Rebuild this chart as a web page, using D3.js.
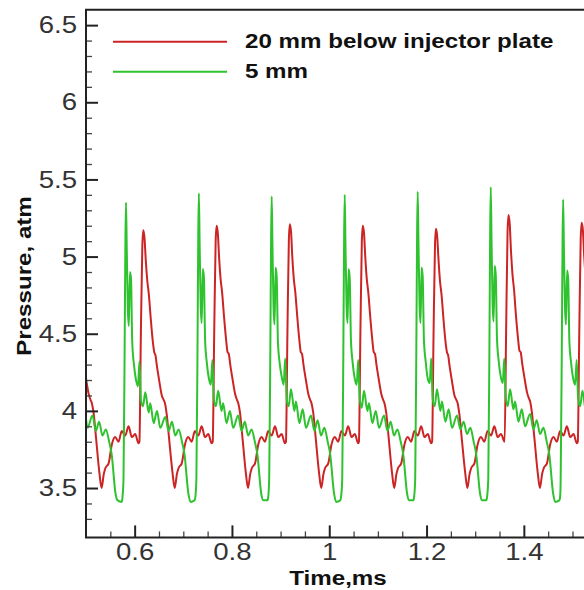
<!DOCTYPE html>
<html><head><meta charset="utf-8">
<script src="https://cdn.jsdelivr.net/npm/d3@7"></script>
<style>html,body{margin:0;padding:0;background:#fff;} svg{display:block;}</style>
</head><body>
<svg id="chart" width="584" height="590"></svg>
<script>
// ---------- data ----------
const seriesNames = ["20 mm below injector plate", "5 mm"];
const seriesColors = ["#cc2424", "#2ec22e"];
const xTickValues = [0.6, 0.8, 1, 1.2, 1.4];
const xTickLabels = ["0.6", "0.8", "1", "1.2", "1.4"];
const yTickValues = [3.5, 4, 4.5, 5, 5.5, 6, 6.5];
const yTickLabels = ["3.5", "4", "4.5", "5", "5.5", "6", "6.5"];
const xTitle = "Time,ms";
const yTitle = "Pressure, atm";

// [time (ms), pressure (atm)]
const red20mm = [
[0.5000,4.21],[0.5055,4.11],[0.5095,4.07],[0.5120,4.05],[0.5155,3.99],[0.5205,3.83],[0.5275,3.60],[0.5320,3.50],[0.5365,3.59],[0.5400,3.63],[0.5465,3.66],[0.5530,3.78],[0.5600,3.83],[0.5668,3.80],[0.5735,3.87],[0.5805,3.84],[0.5875,3.90],[0.5943,3.83],[0.6011,3.85],[0.6080,3.79],[0.6098,3.80],
[0.6128,4.50],[0.6158,5.07],[0.6178,5.17],[0.6203,5.12],[0.6228,4.98],[0.6258,4.85],[0.6293,4.75],[0.6328,4.61],[0.6373,4.45],[0.6403,4.38],[0.6428,4.36],[0.6458,4.29],[0.6508,4.19],[0.6558,4.10],[0.6598,4.07],[0.6623,4.05],[0.6658,3.98],[0.6708,3.82],[0.6778,3.60],[0.6823,3.50],[0.6868,3.59],[0.6903,3.63],[0.6968,3.66],[0.7033,3.78],[0.7103,3.83],[0.7171,3.80],[0.7238,3.87],[0.7308,3.84],[0.7378,3.90],[0.7446,3.83],[0.7514,3.85],[0.7583,3.79],[0.7605,3.80],
[0.7635,4.50],[0.7665,5.10],[0.7685,5.20],[0.7710,5.15],[0.7735,5.00],[0.7765,4.86],[0.7800,4.76],[0.7835,4.62],[0.7880,4.46],[0.7910,4.38],[0.7935,4.37],[0.7965,4.30],[0.8015,4.20],[0.8065,4.11],[0.8105,4.07],[0.8130,4.05],[0.8165,3.99],[0.8215,3.83],[0.8285,3.60],[0.8330,3.50],[0.8375,3.59],[0.8410,3.63],[0.8475,3.66],[0.8540,3.78],[0.8610,3.83],[0.8678,3.80],[0.8745,3.87],[0.8815,3.84],[0.8885,3.90],[0.8953,3.83],[0.9021,3.85],[0.9090,3.79],[0.9110,3.80],
[0.9140,4.50],[0.9170,5.11],[0.9190,5.21],[0.9215,5.16],[0.9240,5.00],[0.9270,4.86],[0.9305,4.76],[0.9340,4.62],[0.9385,4.46],[0.9415,4.38],[0.9440,4.37],[0.9470,4.30],[0.9520,4.20],[0.9570,4.11],[0.9610,4.07],[0.9635,4.05],[0.9670,3.99],[0.9720,3.83],[0.9790,3.60],[0.9835,3.50],[0.9880,3.59],[0.9915,3.63],[0.9980,3.66],[1.0045,3.78],[1.0115,3.83],[1.0183,3.80],[1.0250,3.87],[1.0320,3.84],[1.0390,3.90],[1.0458,3.83],[1.0526,3.85],[1.0595,3.79],[1.0610,3.80],
[1.0640,4.50],[1.0670,5.10],[1.0690,5.20],[1.0715,5.15],[1.0740,5.00],[1.0770,4.86],[1.0805,4.76],[1.0840,4.62],[1.0885,4.46],[1.0915,4.38],[1.0940,4.37],[1.0970,4.30],[1.1020,4.20],[1.1070,4.11],[1.1110,4.07],[1.1135,4.05],[1.1170,3.99],[1.1220,3.83],[1.1290,3.60],[1.1335,3.50],[1.1380,3.59],[1.1415,3.63],[1.1480,3.66],[1.1545,3.78],[1.1615,3.83],[1.1683,3.80],[1.1750,3.87],[1.1820,3.84],[1.1890,3.90],[1.1958,3.83],[1.2026,3.85],[1.2095,3.79],[1.2114,3.80],
[1.2144,4.50],[1.2174,5.08],[1.2194,5.18],[1.2219,5.13],[1.2244,4.99],[1.2274,4.85],[1.2309,4.75],[1.2344,4.61],[1.2389,4.45],[1.2419,4.38],[1.2444,4.36],[1.2474,4.29],[1.2524,4.19],[1.2574,4.10],[1.2614,4.07],[1.2639,4.05],[1.2674,3.98],[1.2724,3.82],[1.2794,3.60],[1.2839,3.50],[1.2884,3.59],[1.2919,3.63],[1.2984,3.66],[1.3049,3.78],[1.3119,3.83],[1.3187,3.80],[1.3254,3.87],[1.3324,3.84],[1.3394,3.90],[1.3462,3.83],[1.3530,3.85],[1.3605,3.80],
[1.3635,4.50],[1.3665,5.16],[1.3685,5.27],[1.3710,5.21],[1.3735,5.04],[1.3765,4.89],[1.3800,4.78],[1.3835,4.63],[1.3880,4.47],[1.3910,4.39],[1.3935,4.38],[1.3965,4.31],[1.4015,4.21],[1.4065,4.12],[1.4105,4.08],[1.4130,4.06],[1.4165,3.99],[1.4215,3.83],[1.4285,3.60],[1.4330,3.50],[1.4375,3.59],[1.4410,3.63],[1.4475,3.66],[1.4540,3.78],[1.4610,3.83],[1.4678,3.80],[1.4745,3.87],[1.4815,3.84],[1.4885,3.90],[1.4953,3.83],[1.5021,3.85],[1.5090,3.79],[1.5109,3.80],
[1.5139,4.50],[1.5169,5.12],[1.5189,5.22],[1.5214,5.17],[1.5239,5.01],[1.5269,4.87],[1.5304,4.76],[1.5339,4.62]
];

const green5mm = [
[0.5000,3.95],[0.5030,3.89],[0.5133,3.97],[0.5202,3.87],[0.5270,3.93],[0.5338,3.84],[0.5408,3.88],[0.5476,3.80],[0.5527,3.72],[0.5609,3.46],[0.5650,3.42],[0.5733,3.41],[0.5750,3.44],
[0.5771,3.56],[0.5794,4.40],[0.5810,5.10],[0.5822,5.35],[0.5838,5.05],[0.5860,4.66],[0.5880,4.55],[0.5903,4.90],[0.5925,4.86],[0.5950,4.45],[0.5986,4.30],[0.6028,4.20],[0.6069,4.16],[0.6099,4.32],[0.6130,4.07],[0.6171,4.03],[0.6219,4.12],[0.6288,3.99],[0.6321,4.05],[0.6391,3.92],[0.6459,4.00],[0.6527,3.89],[0.6630,3.96],[0.6699,3.87],[0.6767,3.93],[0.6835,3.84],[0.6905,3.88],[0.6973,3.80],[0.7024,3.72],[0.7106,3.46],[0.7147,3.41],[0.7230,3.42],[0.7247,3.44],
[0.7269,3.56],[0.7292,4.40],[0.7308,5.15],[0.7320,5.41],[0.7336,5.08],[0.7358,4.68],[0.7378,4.57],[0.7401,4.92],[0.7423,4.87],[0.7448,4.46],[0.7484,4.31],[0.7526,4.21],[0.7567,4.17],[0.7597,4.33],[0.7628,4.08],[0.7669,4.03],[0.7717,4.13],[0.7786,4.00],[0.7819,4.05],[0.7889,3.92],[0.7957,4.00],[0.8025,3.89],[0.8128,3.97],[0.8197,3.87],[0.8265,3.93],[0.8333,3.84],[0.8403,3.88],[0.8471,3.80],[0.8522,3.72],[0.8604,3.46],[0.8645,3.42],[0.8728,3.42],[0.8745,3.44],
[0.8766,3.57],[0.8789,4.40],[0.8805,5.13],[0.8817,5.39],[0.8833,5.07],[0.8855,4.67],[0.8875,4.56],[0.8898,4.93],[0.8920,4.87],[0.8945,4.45],[0.8981,4.31],[0.9023,4.22],[0.9064,4.17],[0.9094,4.34],[0.9125,4.08],[0.9166,4.03],[0.9214,4.14],[0.9283,4.00],[0.9316,4.06],[0.9386,3.92],[0.9454,4.01],[0.9522,3.89],[0.9625,3.97],[0.9694,3.87],[0.9762,3.94],[0.9830,3.84],[0.9900,3.89],[0.9968,3.80],[1.0019,3.72],[1.0101,3.46],[1.0142,3.41],[1.0225,3.42],[1.0242,3.44],
[1.0267,3.56],[1.0290,4.40],[1.0306,5.14],[1.0318,5.40],[1.0334,5.07],[1.0356,4.68],[1.0376,4.57],[1.0399,4.92],[1.0421,4.86],[1.0446,4.46],[1.0482,4.31],[1.0524,4.21],[1.0565,4.17],[1.0595,4.33],[1.0626,4.08],[1.0667,4.02],[1.0715,4.13],[1.0784,4.00],[1.0817,4.05],[1.0887,3.92],[1.0955,4.00],[1.1023,3.89],[1.1126,3.97],[1.1195,3.87],[1.1263,3.93],[1.1331,3.84],[1.1401,3.88],[1.1469,3.80],[1.1520,3.72],[1.1602,3.46],[1.1643,3.42],[1.1726,3.42],[1.1743,3.44],
[1.1767,3.56],[1.1790,4.40],[1.1806,5.16],[1.1818,5.42],[1.1834,5.09],[1.1856,4.69],[1.1876,4.57],[1.1899,4.93],[1.1921,4.87],[1.1946,4.46],[1.1982,4.32],[1.2024,4.21],[1.2065,4.18],[1.2095,4.34],[1.2126,4.08],[1.2167,4.03],[1.2215,4.14],[1.2284,4.00],[1.2317,4.06],[1.2387,3.93],[1.2455,4.01],[1.2523,3.89],[1.2626,3.97],[1.2695,3.88],[1.2763,3.93],[1.2831,3.85],[1.2901,3.89],[1.2969,3.80],[1.3020,3.72],[1.3102,3.46],[1.3143,3.42],[1.3226,3.42],[1.3243,3.44],
[1.3269,3.56],[1.3292,4.40],[1.3308,5.18],[1.3320,5.45],[1.3336,5.10],[1.3358,4.69],[1.3378,4.58],[1.3401,4.94],[1.3423,4.88],[1.3448,4.47],[1.3484,4.32],[1.3526,4.22],[1.3567,4.18],[1.3597,4.34],[1.3628,4.09],[1.3669,4.03],[1.3717,4.14],[1.3786,4.01],[1.3819,4.06],[1.3889,3.93],[1.3957,4.01],[1.4025,3.90],[1.4128,3.98],[1.4197,3.88],[1.4265,3.94],[1.4333,3.85],[1.4403,3.89],[1.4471,3.80],[1.4522,3.72],[1.4604,3.46],[1.4645,3.41],[1.4728,3.42],[1.4745,3.44],
[1.4757,3.56],[1.4780,4.40],[1.4796,5.11],[1.4808,5.37],[1.4824,5.04],[1.4846,4.67],[1.4866,4.56],[1.4889,4.91],[1.4911,4.86],[1.4936,4.45],[1.4972,4.31],[1.5014,4.21],[1.5055,4.17],[1.5085,4.33],[1.5116,4.08],[1.5157,4.03],[1.5205,4.13],[1.5274,4.00],[1.5307,4.05],[1.5377,3.92]
];

// ---------- drawing ----------
const svg = d3.select("#chart");
svg.append("rect").attr("width", 584).attr("height", 590).attr("fill", "#fff");

const x = d3.scaleLinear().domain([0.5, 1.6]).range([86, 621.15]);
const y = d3.scaleLinear().domain([3.18, 6.6]).range([537.4, 9.7]);
const FONT = "'Liberation Sans', Arial, Helvetica, sans-serif";
const STRETCH = "scale(1.15,1)";
const axisColor = "#222";

svg.append("defs").append("clipPath").attr("id", "plotclip")
  .append("rect").attr("x", x.range()[0]).attr("y", y.range()[1])
  .attr("width", x.range()[1] - x.range()[0]).attr("height", y.range()[0] - y.range()[1]);

// curves
const line = d3.line().x(d => x(d[0])).y(d => y(d[1])).curve(d3.curveMonotoneX);
const plot = svg.append("g").attr("clip-path", "url(#plotclip)");
[red20mm, green5mm].forEach((s, i) => {
  plot.append("path").datum(s).attr("d", line)
    .attr("fill", "none").attr("stroke", seriesColors[i])
    .attr("stroke-width", 2).attr("stroke-linejoin", "round");
});

// minor ticks
const xMinor = d3.range(0.55, 1.6, 0.05).filter(v => xTickValues.every(t => Math.abs(t - v) > 1e-6));
const yMinor = d3.range(3.3, 6.6, 0.1).filter(v => yTickValues.every(t => Math.abs(t - v) > 1e-6));

const gxMinor = svg.append("g").attr("transform", `translate(0,${y.range()[0]})`)
  .call(d3.axisBottom(x).tickValues(xMinor).tickSize(-6).tickSizeOuter(0).tickFormat(""));
const gyMinor = svg.append("g").attr("transform", `translate(${x.range()[0]},0)`)
  .call(d3.axisLeft(y).tickValues(yMinor).tickSize(-6).tickSizeOuter(0).tickFormat(""));
[gxMinor, gyMinor].forEach(g => {
  g.select(".domain").remove();
  g.selectAll("line").attr("stroke", "#444").attr("stroke-width", 1.3);
});

// major ticks with labels
const gx = svg.append("g").attr("transform", `translate(0,${y.range()[0]})`)
  .call(d3.axisBottom(x).tickValues(xTickValues).tickSize(-12).tickSizeOuter(0).tickPadding(5.5)
    .tickFormat((d, i) => xTickLabels[i]));
const gy = svg.append("g").attr("transform", `translate(${x.range()[0]},0)`)
  .call(d3.axisLeft(y).tickValues(yTickValues).tickSize(-12).tickSizeOuter(0).tickPadding(7.8)
    .tickFormat((d, i) => yTickLabels[i]));
[gx, gy].forEach(g => {
  g.select(".domain").remove();
  g.attr("font-family", FONT).attr("font-size", 24);
  g.selectAll("line").attr("stroke", axisColor).attr("stroke-width", 2);
  g.selectAll("text").attr("fill", "#333").attr("transform", STRETCH);
});

// frame (left axis, bottom axis, top border)
const [xl, xr] = x.range();
const [yb, yt] = y.range();
svg.append("path")
  .attr("d", `M${xr},${yt}H${xl}V${yb}H${xr}`)
  .attr("fill", "none").attr("stroke", axisColor).attr("stroke-width", 2);

// axis titles
svg.append("text").attr("transform", `translate(338,585) ${STRETCH}`)
  .attr("text-anchor", "middle").attr("font-family", FONT).attr("font-weight", "bold")
  .attr("font-size", 21).attr("fill", "#111").text(xTitle);
svg.append("text").attr("transform", `translate(31,276) rotate(-90) ${STRETCH}`)
  .attr("text-anchor", "middle").attr("font-family", FONT).attr("font-weight", "bold")
  .attr("font-size", 21).attr("fill", "#111").text(yTitle);

// legend
const legend = svg.append("g");
seriesNames.forEach((name, i) => {
  const ly = 41.7 + i * 30;
  legend.append("line").attr("x1", 113).attr("x2", 227).attr("y1", ly).attr("y2", ly)
    .attr("stroke", seriesColors[i]).attr("stroke-width", 2);
  legend.append("text").attr("transform", `translate(245,${ly + 6.5}) ${STRETCH}`)
    .attr("font-family", FONT).attr("font-weight", "bold").attr("font-size", 21)
    .attr("fill", "#111").text(name);
});
</script>
</body></html>
